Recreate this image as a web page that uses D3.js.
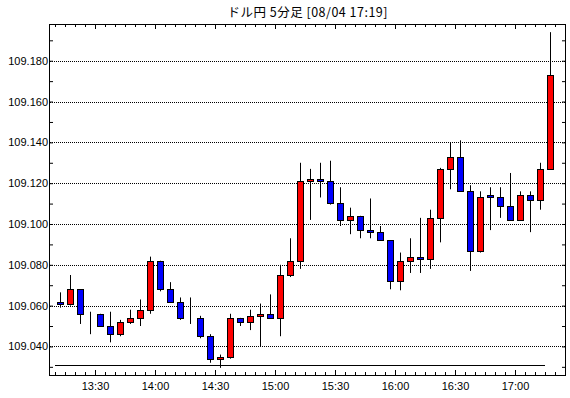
<!DOCTYPE html>
<html>
<head>
<meta charset="utf-8">
<script src="https://cdn.jsdelivr.net/npm/d3@7"></script>
<style>
  body { margin: 0; background: #fff; }
  svg { display: block; }
  .lbl text { font-family: "Liberation Sans", Arial, sans-serif; font-size: 11px; fill: #000; }
</style>
</head>
<body>
<svg id="chart" width="570" height="398"></svg>
<script>

// 5-minute candles, USD/JPY
const times = ["13:10","13:15","13:20","13:25","13:30","13:35","13:40","13:45","13:50","13:55",
               "14:00","14:05","14:10","14:15","14:20","14:25","14:30","14:35","14:40","14:45",
               "14:50","14:55","15:00","15:05","15:10","15:15","15:20","15:25","15:30","15:35",
               "15:40","15:45","15:50","15:55","16:00","16:05","16:10","16:15","16:20","16:25",
               "16:30","16:35","16:40","16:45","16:50","16:55","17:00","17:05","17:10","17:15"];
const opens  = [109.062,109.061,109.068,109.056,109.056,109.050,109.046,109.052,109.054,109.058,
                109.082,109.068,109.062,109.054,109.054,109.045,109.034,109.035,109.054,109.052,
                109.055,109.056,109.054,109.075,109.082,109.121,109.122,109.121,109.1105,109.102,
                109.104,109.097,109.096,109.092,109.072,109.082,109.084,109.083,109.103,109.127,
                109.133,109.116,109.087,109.114,109.113,109.109,109.102,109.114,109.112,109.127];
const highs  = [109.0665,109.075,109.068,109.057,109.056,109.057,109.053,109.058,109.063,109.084,
                109.082,109.0715,109.064,109.064,109.055,109.046,109.036,109.056,109.054,109.058,
                109.061,109.0655,109.080,109.093,109.130,109.127,109.130,109.131,109.118,109.108,
                109.104,109.1125,109.099,109.092,109.086,109.093,109.103,109.107,109.1275,109.140,
                109.141,109.119,109.116,109.118,109.118,109.125,109.116,109.116,109.130,109.194];
const lows   = [109.059,109.060,109.051,109.046,109.050,109.042,109.045,109.051,109.050,109.056,
                109.067,109.062,109.053,109.051,109.044,109.032,109.0295,109.034,109.050,109.048,
                109.040,109.054,109.045,109.074,109.078,109.102,109.113,109.1095,109.099,109.095,
                109.093,109.093,109.092,109.068,109.0675,109.076,109.076,109.078,109.091,109.117,
                109.116,109.077,109.086,109.097,109.103,109.102,109.102,109.096,109.107,109.127];
const closes = [109.061,109.068,109.056,109.056,109.050,109.046,109.052,109.054,109.058,109.082,
                109.068,109.062,109.054,109.054,109.045,109.034,109.035,109.054,109.052,109.055,
                109.056,109.054,109.075,109.082,109.121,109.122,109.121,109.1105,109.102,109.104,
                109.097,109.096,109.092,109.072,109.082,109.084,109.083,109.103,109.127,109.133,
                109.116,109.087,109.113,109.113,109.109,109.102,109.114,109.112,109.127,109.173];

// horizontal reference level
const refLevel = 109.031;
const refSpan = ["13:10", "17:15"];

const yTicks  = [109.03,109.04,109.05,109.06,109.07,109.08,109.09,109.10,
                 109.11,109.12,109.13,109.14,109.15,109.16,109.17,109.18,109.19];
const yLabels = [109.04,109.06,109.08,109.10,109.12,109.14,109.16,109.18];
const title = "ドル円 5分足 [08/04 17:19]";

const svg = d3.select("#chart");
const plotL = 50, plotR = 565, plotT = 24, plotB = 375;

const parse = d3.timeParse("%H:%M");
const candles = times.map((t, i) => ({
  t: parse(t), o: opens[i], h: highs[i], l: lows[i], c: closes[i]
}));

// candle i spans [t, t+5min]; centre at t + 2.5min
const x = d3.scaleTime()
  .domain([d3.timeSecond.offset(parse("13:10"), -150), parse("17:25")])
  .range([plotL, plotR]);
const y = d3.scaleLinear()
  .domain([109.026, 109.198])
  .range([plotB, plotT]);

const mid = d => x(d3.timeSecond.offset(d, 150));

// grid lines
svg.append("g")
  .selectAll("line")
  .data(yLabels)
  .join("line")
    .attr("x1", plotL).attr("x2", plotR)
    .attr("y1", d => Math.round(y(d)) + 0.5)
    .attr("y2", d => Math.round(y(d)) + 0.5)
    .attr("stroke", "#000")
    .attr("stroke-dasharray", "1,1");

// reference line
svg.append("line")
  .attr("x1", x(parse(refSpan[0]))).attr("x2", x(parse(refSpan[1])))
  .attr("y1", Math.round(y(refLevel)) + 0.5)
  .attr("y2", Math.round(y(refLevel)) + 0.5)
  .attr("stroke", "#000");

// axes (ticks point inward)
const minor = d3.timeMinute.every(5), major = d3.timeMinute.every(30);

const xb = svg.append("g").attr("transform", `translate(0,${plotB})`);
xb.append("g").call(d3.axisBottom(x).ticks(minor).tickSize(-3).tickFormat(""));
xb.append("g").attr("class", "lbl")
  .call(d3.axisBottom(x).ticks(major).tickSize(-5).tickPadding(7).tickFormat(d3.timeFormat("%H:%M")));

const xt = svg.append("g").attr("transform", `translate(0,${plotT})`);
xt.append("g").call(d3.axisTop(x).ticks(minor).tickSize(-3).tickFormat(""));
xt.append("g").call(d3.axisTop(x).ticks(major).tickSize(-5).tickFormat(""));

svg.append("g").attr("class", "lbl")
  .attr("transform", `translate(${plotL},0)`)
  .call(d3.axisLeft(y).tickValues(yTicks).tickSize(-3).tickPadding(2)
    .tickFormat(d => yLabels.some(v => Math.abs(v - d) < 1e-6) ? d3.format(".3f")(d) : ""));

svg.append("g")
  .attr("transform", `translate(${plotR},0)`)
  .call(d3.axisRight(y).tickValues(yTicks).tickSize(-3).tickFormat(""));

svg.selectAll(".domain").remove();
svg.selectAll(".tick line").attr("stroke", "#000");

// candles
const g = svg.append("g");
g.selectAll("line.wick")
  .data(candles)
  .join("line")
    .attr("class", "wick")
    .attr("x1", d => Math.round(mid(d.t)) + 0.5)
    .attr("x2", d => Math.round(mid(d.t)) + 0.5)
    .attr("y1", d => y(d.h))
    .attr("y2", d => y(d.l))
    .attr("stroke", "#000");

g.selectAll("rect")
  .data(candles)
  .join("rect")
    .attr("x", d => Math.round(mid(d.t)) - 3 + 0.5)
    .attr("width", 6)
    .attr("y", d => Math.round(y(Math.max(d.o, d.c))) + 0.5)
    .attr("height", d => Math.round(y(Math.min(d.o, d.c))) - Math.round(y(Math.max(d.o, d.c))))
    .attr("fill", d => d.c >= d.o ? "#ff0000" : "#0000ff")
    .attr("stroke", "#000");

// frame
svg.append("rect")
  .attr("x", plotL - 0.5).attr("y", plotT + 0.5)
  .attr("width", plotR - plotL + 1).attr("height", plotB - plotT)
  .attr("fill", "none")
  .attr("stroke", "#000");

// title (spread out like the original's fixed-width font)
svg.append("text")
  .attr("x", (plotL + plotR) / 2)
  .attr("y", 17)
  .attr("text-anchor", "middle")
  .attr("textLength", 160)
  .attr("lengthAdjust", "spacing")
  .style("font-family", "'Noto Sans CJK JP', sans-serif")
  .style("font-size", "12.5px")
  .style("white-space", "pre")
  .text(title);

</script>
</body>
</html>
